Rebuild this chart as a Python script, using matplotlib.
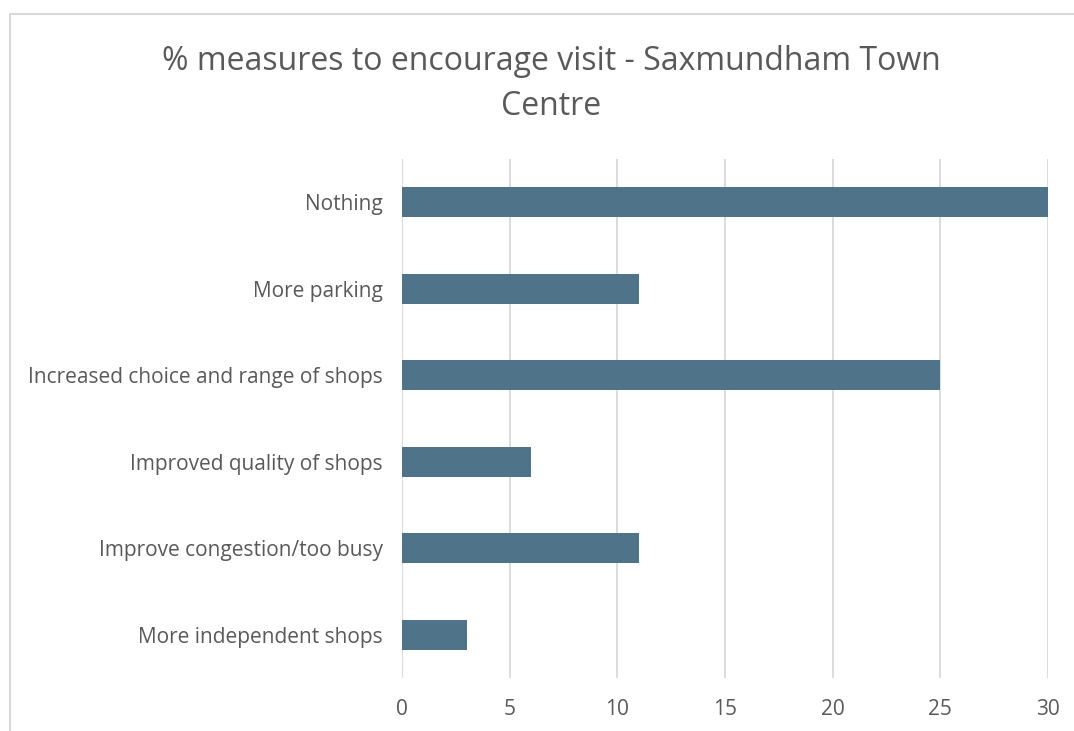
import matplotlib
matplotlib.use("Agg")
import matplotlib.pyplot as plt
from matplotlib.patches import Rectangle

categories = [
    "Nothing",
    "More parking",
    "Increased choice and range of shops",
    "Improved quality of shops",
    "Improve congestion/too busy",
    "More independent shops",
]
values = [30, 11, 25, 6, 11, 3]
xticks = [0, 5, 10, 15, 20, 25, 30]
title = "% measures to encourage visit - Saxmundham Town\nCentre"

BAR = "#4F7388"
GRID = "#D9D9D9"
TEXT = "#595959"

plt.rcParams["font.family"] = ["Open Sans", "DejaVu Sans"]

fig = plt.figure(figsize=(10.74, 7.31), dpi=100)
fig.patches.append(Rectangle((10 / 1074, -0.1), 1.2, 1 - 14 / 731 + 0.1,
                             transform=fig.transFigure, fill=False,
                             edgecolor=GRID, lw=1.5))

ax = fig.add_axes([402 / 1074, 1 - 678 / 731, (1048 - 402) / 1074, (678 - 159) / 731])
y = list(range(len(categories)))
ax.barh(y, values, height=0.35, color=BAR, zorder=3)
ax.set_ylim(len(categories) - 0.5, -0.5)
ax.set_xlim(0, 30)
ax.set_xticks(xticks)
ax.set_yticks(y)
ax.set_yticklabels(categories)
ax.grid(axis="x", color=GRID, lw=1.3, zorder=0)
for s in ax.spines.values():
    s.set_visible(False)
ax.tick_params(axis="both", length=0, colors=TEXT, labelsize=15)
ax.tick_params(axis="y", pad=14)
ax.tick_params(axis="x", pad=15)

fig.text(551 / 1074, 1 - 84 / 731, title, ha="center", va="center",
         fontsize=23, color=TEXT, linespacing=1.45)

fig.savefig("out.png", dpi=100)
